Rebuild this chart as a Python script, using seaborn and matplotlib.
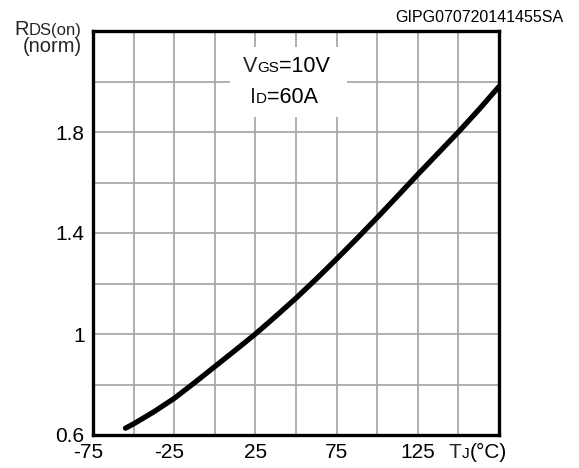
import numpy as np
import pandas as pd
import matplotlib
matplotlib.use("Agg")
import matplotlib.pyplot as plt
import seaborn as sns
from matplotlib.patches import Rectangle
from matplotlib.transforms import ScaledTranslation

# ---- data ----
tj = [-55, -50, -37.5, -25, -12.5, 0, 12.5, 25, 37.5, 50, 62.5, 75,
      87.5, 100, 112.5, 125, 137.5, 150, 162.5, 175]
rds_norm = [0.627, 0.644, 0.692, 0.745, 0.807, 0.871, 0.935, 1.0, 1.07,
            1.142, 1.218, 1.297, 1.378, 1.461, 1.546, 1.632, 1.716, 1.80,
            1.888, 1.98]
x_ticks = [-75, -25, 25, 75, 125]
x_tick_labels = ["-75", "-25", "25", "75", "125"]
y_ticks = [0.6, 1.0, 1.4, 1.8]
y_tick_labels = ["0.6", "1", "1.4", "1.8"]
x_grid = [-50, -25, 0, 25, 50, 75, 100, 125, 150]
y_grid = [0.8, 1.0, 1.2, 1.4, 1.6, 1.8, 2.0]

df = pd.DataFrame({"Tj": tj, "R": rds_norm})

sns.set_theme(style="white")
plt.rcParams["font.family"] = ["Liberation Sans", "DejaVu Sans"]

W, H = 579, 468
fig = plt.figure(figsize=(W / 100, H / 100), dpi=100)
ax = fig.add_axes([93 / W, 33 / H, 406 / W, 404 / H])

ax.set_xlim(-75, 175)
ax.set_ylim(0.6, 2.2)

# grid lines
for gx in x_grid:
    ax.axvline(gx, color="#a9a9a9", lw=1.3, zorder=0.5)
for gy in y_grid:
    ax.axhline(gy, color="#a9a9a9", lw=1.3, zorder=0.5)

# white box behind the condition text
ax.add_patch(Rectangle((9.4, 1.86), 72.0, 0.277, facecolor="white",
                       edgecolor="none", zorder=1))

sns.lineplot(data=df, x="Tj", y="R", ax=ax, color="black", lw=3.8,
             zorder=3, solid_capstyle="round", sort=True)

for sp in ax.spines.values():
    sp.set_color("black")
    sp.set_linewidth(2.4)
    sp.set_zorder(4)

ax.set_xticks(x_ticks)
ax.set_xticklabels(x_tick_labels)
ax.set_yticks(y_ticks)
ax.set_yticklabels(y_tick_labels)
ax.tick_params(axis="both", length=0, labelsize=15, colors="black")
ax.tick_params(axis="x", pad=6)
ax.tick_params(axis="y", pad=6)
ax.set_xlabel("")
ax.set_ylabel("")

# negative labels are centred on their digits in the reference
for lbl in ax.get_xticklabels():
    if lbl.get_text().startswith("-"):
        lbl.set_transform(lbl.get_transform() +
                          ScaledTranslation(-5 / 100, 0, fig.dpi_scale_trans))


def chain(first_text, parts, y, ycoords):
    prev = first_text
    for s, size in parts:
        prev = ax.annotate(s, xy=(1, y), xycoords=(prev, ycoords),
                           ha="left", va="baseline", fontsize=size,
                           color="black", zorder=5, annotation_clip=False)
    return prev


# condition text
t1 = ax.text(17.4, 2.039, "V", fontsize=15.5, ha="left", va="baseline", zorder=5)
chain(t1, [("GS", 11), ("=10V", 15.5)], 2.039, "data")
t2 = ax.text(21.7, 1.914, "I", fontsize=15.5, ha="left", va="baseline", zorder=5)
chain(t2, [("D", 11), ("=60A", 15.5)], 1.914, "data")

# y label (right aligned)
yl_x = (82 - 93) / 406
ds = ax.text(yl_x, 0.990, "DS(on)", transform=ax.transAxes, fontsize=12,
             ha="right", va="baseline", clip_on=False)
ax.annotate("R", xy=(0, 0.990), xycoords=(ds, "axes fraction"), ha="right",
            va="baseline", fontsize=14.5, annotation_clip=False)
ax.text(yl_x, 0.9488, "(norm)", transform=ax.transAxes, fontsize=14.5,
        ha="right", va="baseline", clip_on=False)

# x label at the end of the axis
tt = ax.text(144.2, -0.057, "T", transform=ax.get_xaxis_transform(),
             fontsize=15, ha="left", va="baseline", clip_on=False)
chain(tt, [("J", 11), ("(°C)", 15)], -0.057, "axes fraction")

fig.text(563 / W, 1 - 22 / H, "GIPG070720141455SA", fontsize=11.5,
         ha="right", va="baseline", color="black")

fig.savefig("out.png", dpi=100)
